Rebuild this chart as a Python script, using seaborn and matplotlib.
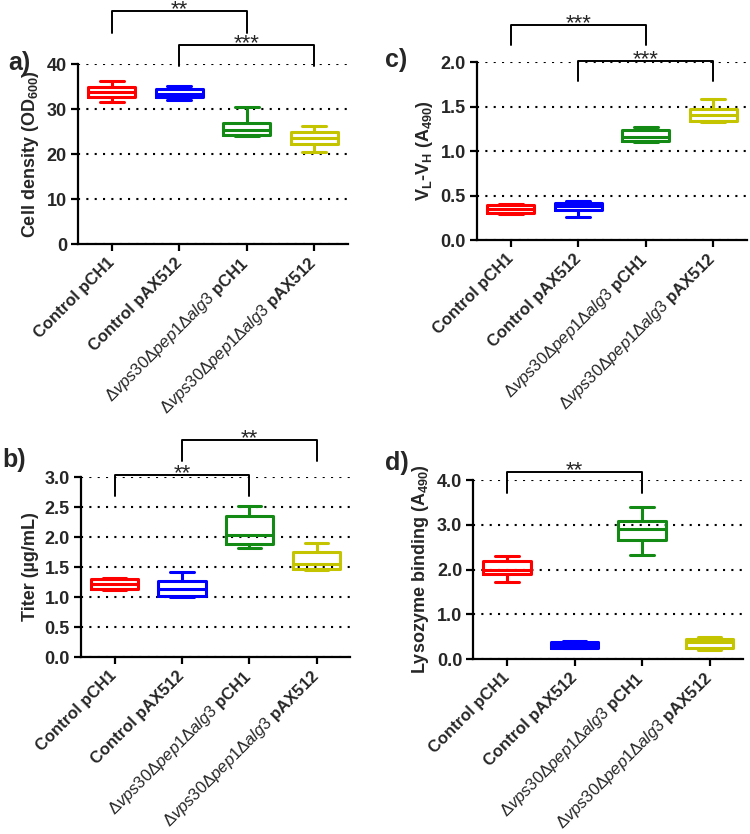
import matplotlib
matplotlib.use("Agg")
import matplotlib.pyplot as plt
import pandas as pd
import seaborn as sns

# five-number summaries (min, Q1, median, Q3, max)
groups = ["ctrl_pCH1", "ctrl_pAX512", "mut_pCH1", "mut_pAX512"]
tick_labels = [
    "Control pCH1",
    "Control pAX512",
    r"$\mathrm{\Delta}\mathit{vps30}\mathrm{\Delta}\mathit{pep1}\mathrm{\Delta}\mathit{alg3}$ pCH1",
    r"$\mathrm{\Delta}\mathit{vps30}\mathrm{\Delta}\mathit{pep1}\mathrm{\Delta}\mathit{alg3}$ pAX512",
]
colors = ["#ff0000", "#0000ff", "#138a13", "#c4c400"]

cell_density = [
    [31.6, 32.7, 33.7, 34.8, 36.2],
    [32.0, 32.7, 33.4, 34.5, 35.1],
    [24.1, 24.2, 25.3, 27.0, 30.5],
    [20.4, 22.2, 23.5, 25.0, 26.2],
]
titer = [
    [1.12, 1.14, 1.21, 1.30, 1.32],
    [1.00, 1.01, 1.13, 1.26, 1.41],
    [1.81, 1.88, 2.03, 2.35, 2.52],
    [1.45, 1.46, 1.55, 1.75, 1.90],
]
vl_vh = [
    [0.29, 0.30, 0.35, 0.39, 0.40],
    [0.26, 0.34, 0.38, 0.42, 0.44],
    [1.10, 1.11, 1.16, 1.24, 1.27],
    [1.33, 1.34, 1.41, 1.47, 1.58],
]
lysozyme = [
    [1.72, 1.90, 1.98, 2.20, 2.30],
    [0.24, 0.25, 0.31, 0.38, 0.41],
    [2.33, 2.67, 2.91, 3.09, 3.40],
    [0.21, 0.25, 0.38, 0.44, 0.50],
]

# significance brackets: (group a, group b, bar height, leg bottom, stars)
sig_a = [(0, 2, 51.8, 47.0, "**"), (1, 3, 44.2, 39.6, "***")]
sig_b = [(1, 3, 3.62, 3.26, "**"), (0, 2, 3.04, 2.68, "**")]
sig_c = [(0, 2, 2.42, 2.19, "***"), (1, 3, 2.015, 1.79, "***")]
sig_d = [(0, 2, 4.17, 3.72, "**")]

sns.set_style("ticks")
plt.rcParams["font.family"] = ["Liberation Sans", "DejaVu Sans"]
plt.rcParams["font.weight"] = "bold"
plt.rcParams["mathtext.fontset"] = "custom"
plt.rcParams["mathtext.rm"] = "Liberation Sans:weight=normal"
plt.rcParams["mathtext.it"] = "Liberation Sans:style=italic:weight=normal"
plt.rcParams["mathtext.bf"] = "Liberation Sans:weight=bold"


def to_frame(values):
    rows = []
    for g, vals in zip(groups, values):
        for v in vals:
            rows.append({"group": g, "value": v})
    return pd.DataFrame(rows)


def panel(ax, values, ylim, yticks, fmt, ylabel, sigs):
    df = to_frame(values)
    ax.yaxis.grid(True, color="black", linestyle=(0, (1, 3)), linewidth=1.5)
    ax.set_axisbelow(True)
    sns.boxplot(data=df, x="group", y="value", hue="group", order=groups,
                hue_order=groups, palette=colors, fill=False, width=0.7,
                linewidth=2.2, whis=(0, 100), legend=False, ax=ax)
    ax.set_xlim(-0.5, 3.5)
    ax.set_ylim(*ylim)
    ax.set_yticks(yticks)
    ax.set_yticklabels([fmt.format(t) for t in yticks], fontsize=13,
                       fontweight="bold")
    ax.set_xticks(range(4))
    ax.set_xticklabels(tick_labels, rotation=45, ha="right", va="center",
                       rotation_mode="anchor", fontsize=12,
                       fontweight="bold")
    ax.set_xlabel("")
    ax.set_ylabel(ylabel, fontsize=13, fontweight="bold", labelpad=4)
    sns.despine(ax=ax)
    for s in ["left", "bottom"]:
        ax.spines[s].set_linewidth(1.6)
        ax.spines[s].set_color("black")
    ax.tick_params(axis="both", width=1.6, length=5, color="black", pad=3)
    ax.tick_params(axis="x", pad=7)
    for g1, g2, top, leg, stars in sigs:
        ax.plot([g1, g1, g2, g2], [leg, top, top, leg], color="black",
                linewidth=1.4, clip_on=False)
        ax.annotate(stars, xy=((g1 + g2) / 2, top), xytext=(0, -3),
                    textcoords="offset points", ha="center", va="baseline",
                    fontsize=16, fontweight="normal", annotation_clip=False)


fig = plt.figure(figsize=(7.5, 8.34), dpi=100)
ax_a = fig.add_axes([0.104, 0.7074, 0.36, 0.2158])
ax_c = fig.add_axes([0.636, 0.7122, 0.36, 0.2134])
ax_b = fig.add_axes([0.108, 0.2122, 0.359, 0.2158])
ax_d = fig.add_axes([0.631, 0.2098, 0.36, 0.2146])

panel(ax_a, cell_density, (0, 40), [0, 10, 20, 30, 40], "{:.0f}",
      r"Cell density (OD$_{\mathbf{600}}$)", sig_a)
panel(ax_b, titer, (0, 3), [0, 0.5, 1, 1.5, 2, 2.5, 3], "{:.1f}",
      "Titer (µg/mL)", sig_b)
panel(ax_c, vl_vh, (0, 2), [0, 0.5, 1, 1.5, 2], "{:.1f}",
      r"V$_{\mathbf{L}}$-V$_{\mathbf{H}}$ (A$_{\mathbf{490}}$)", sig_c)
panel(ax_d, lysozyme, (0, 4), [0, 1, 2, 3, 4], "{:.1f}",
      r"Lysozyme binding (A$_{\mathbf{490}}$)", sig_d)

for lbl, x, y in [("a)", 8, 63), ("c)", 385, 60), ("b)", 2, 460), ("d)", 385, 463)]:
    fig.text(x / 750, 1 - y / 834, lbl, fontsize=18, fontweight="bold",
             va="center", ha="left")

fig.savefig("out.png", dpi=100)
